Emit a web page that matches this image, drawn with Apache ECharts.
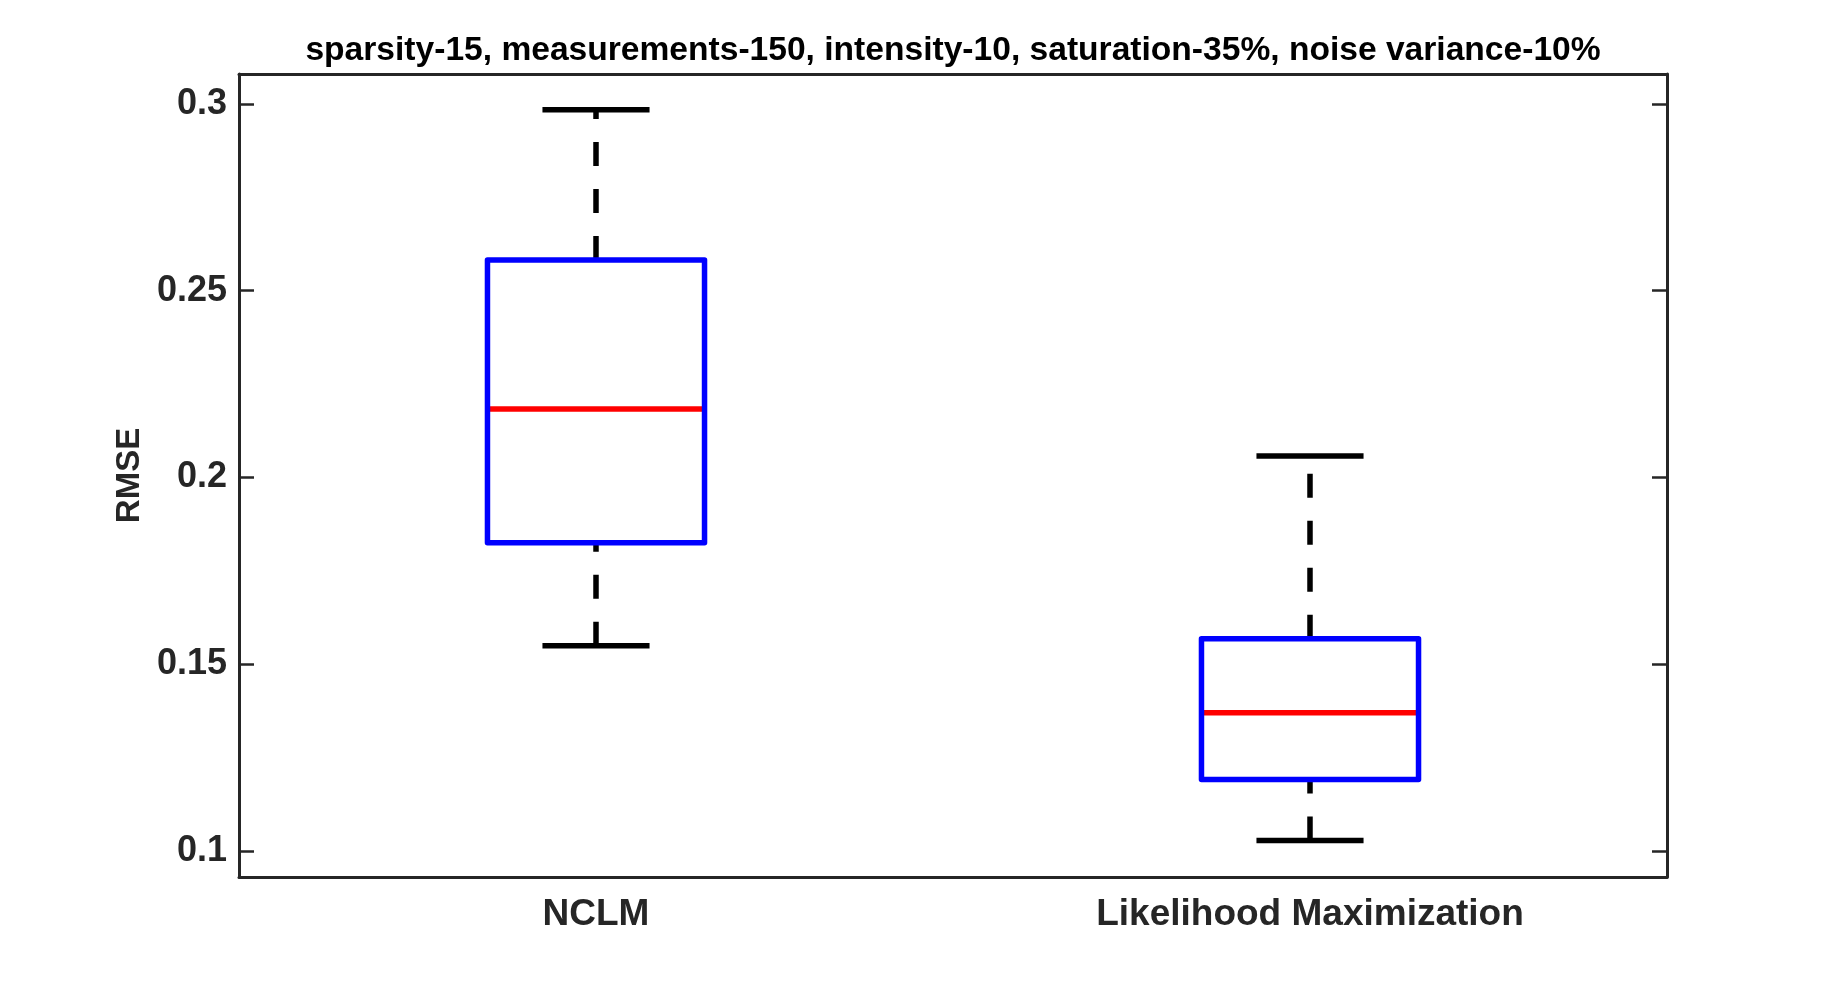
<!DOCTYPE html>
<html>
<head>
<meta charset="utf-8">
<title>RMSE boxplot</title>
<script src="https://cdn.jsdelivr.net/npm/echarts@6/dist/echarts.min.js"></script>
<style>
	html, body { margin: 0; padding: 0; background: #fff; }
	#chart { width: 1842px; height: 987px; }
</style>
</head>
<body>
<div id="chart"></div>
<script>
var categories = ['NCLM', 'Likelihood Maximization'];
var whiskerLow = [0.1549, 0.1028];
var quartile1 = [0.1825, 0.1191];
var medians = [0.2183, 0.1370];
var quartile3 = [0.2582, 0.1568];
var whiskerHigh = [0.2984, 0.2057];
var yTicks = [0.1, 0.15, 0.2, 0.25, 0.3];

var fontName = '"Liberation Sans", Arial, Helvetica, sans-serif';
var axisColor = '#262626';

var boxData = [];
for (var i = 0; i < categories.length; i++) {
	boxData.push([i, whiskerLow[i], quartile1[i], medians[i], quartile3[i], whiskerHigh[i]]);
}

// matlab style box: blue box, red median, dashed black whiskers, short caps
function renderBox(params, api) {
	var idx = api.value(0);
	var pLow = api.coord([idx, api.value(1)]);
	var pQ1 = api.coord([idx, api.value(2)]);
	var pMed = api.coord([idx, api.value(3)]);
	var pQ3 = api.coord([idx, api.value(4)]);
	var pHigh = api.coord([idx, api.value(5)]);
	var band = api.size([1, 0])[0];
	var boxW = band * 0.304;
	var capW = band * 0.15;
	var cx = pQ1[0];
	var whiskerStyle = { stroke: '#000', lineWidth: 5.5, lineDash: [24, 23] };
	var capStyle = { stroke: '#000', lineWidth: 5.5 };
	return {
		type: 'group',
		children: [
			{ type: 'line', shape: { x1: cx, y1: pQ3[1], x2: cx, y2: pHigh[1] }, style: whiskerStyle },
			{ type: 'line', shape: { x1: cx, y1: pLow[1], x2: cx, y2: pQ1[1] }, style: whiskerStyle },
			{ type: 'line', shape: { x1: cx - capW / 2, y1: pHigh[1], x2: cx + capW / 2, y2: pHigh[1] }, style: capStyle },
			{ type: 'line', shape: { x1: cx - capW / 2, y1: pLow[1], x2: cx + capW / 2, y2: pLow[1] }, style: capStyle },
			{ type: 'line', shape: { x1: cx - boxW / 2, y1: pMed[1], x2: cx + boxW / 2, y2: pMed[1] }, style: { stroke: '#ff0000', lineWidth: 5.5 } },
			{ type: 'rect', shape: { x: cx - boxW / 2, y: pQ3[1], width: boxW, height: pQ1[1] - pQ3[1] },
				style: { fill: 'none', stroke: '#0000ff', lineWidth: 5.5, lineJoin: 'round' } }
		]
	};
}

var chart = echarts.init(document.getElementById('chart'));

var option = {
	backgroundColor: '#fff',
	animation: false,
	title: {
		text: 'sparsity-15, measurements-150, intensity-10, saturation-35%, noise variance-10%',
		left: 953,
		textAlign: 'center',
		top: 34,
		padding: 0,
		textStyle: { fontFamily: fontName, fontWeight: 'bold', fontSize: 33.6, color: '#000' }
	},
	grid: { left: 239, right: 175, top: 74, bottom: 110 },
	xAxis: [{
		type: 'category',
		data: categories,
		position: 'bottom',
		axisLine: { lineStyle: { color: axisColor, width: 3 } },
		axisTick: { inside: true, alignWithLabel: true, length: 15, lineStyle: { color: axisColor, width: 2.5 } },
		axisLabel: { margin: 19, fontFamily: fontName, fontWeight: 'bold', fontSize: 37, color: axisColor },
		splitLine: { show: false }
	}, {
		type: 'category',
		data: categories,
		position: 'top',
		axisLine: { lineStyle: { color: axisColor, width: 3 } },
		axisTick: { inside: true, alignWithLabel: true, length: 15, lineStyle: { color: axisColor, width: 2.5 } },
		axisLabel: { show: false },
		splitLine: { show: false }
	}],
	yAxis: [{
		type: 'value',
		min: 0.093,
		max: 0.308,
		position: 'left',
		name: 'RMSE',
		nameLocation: 'middle',
		nameGap: 82,
		nameTextStyle: { fontFamily: fontName, fontWeight: 'bold', fontSize: 33, color: axisColor },
		axisLine: { show: true, lineStyle: { color: axisColor, width: 3 } },
		axisTick: { show: true, inside: true, length: 15, customValues: yTicks, lineStyle: { color: axisColor, width: 2.5 } },
		axisLabel: { margin: 12, customValues: yTicks, fontFamily: fontName, fontWeight: 'bold', fontSize: 36, color: axisColor },
		splitLine: { show: false }
	}, {
		type: 'value',
		min: 0.093,
		max: 0.308,
		position: 'right',
		axisLine: { show: true, lineStyle: { color: axisColor, width: 3 } },
		axisTick: { show: true, inside: true, length: 15, customValues: yTicks, lineStyle: { color: axisColor, width: 2.5 } },
		axisLabel: { show: false },
		splitLine: { show: false }
	}],
	series: [{
		type: 'custom',
		name: 'RMSE',
		xAxisIndex: 0,
		yAxisIndex: 0,
		silent: true,
		renderItem: renderBox,
		encode: { x: 0, y: [1, 2, 3, 4, 5] },
		data: boxData
	}]
};

chart.setOption(option);
</script>
</body>
</html>
